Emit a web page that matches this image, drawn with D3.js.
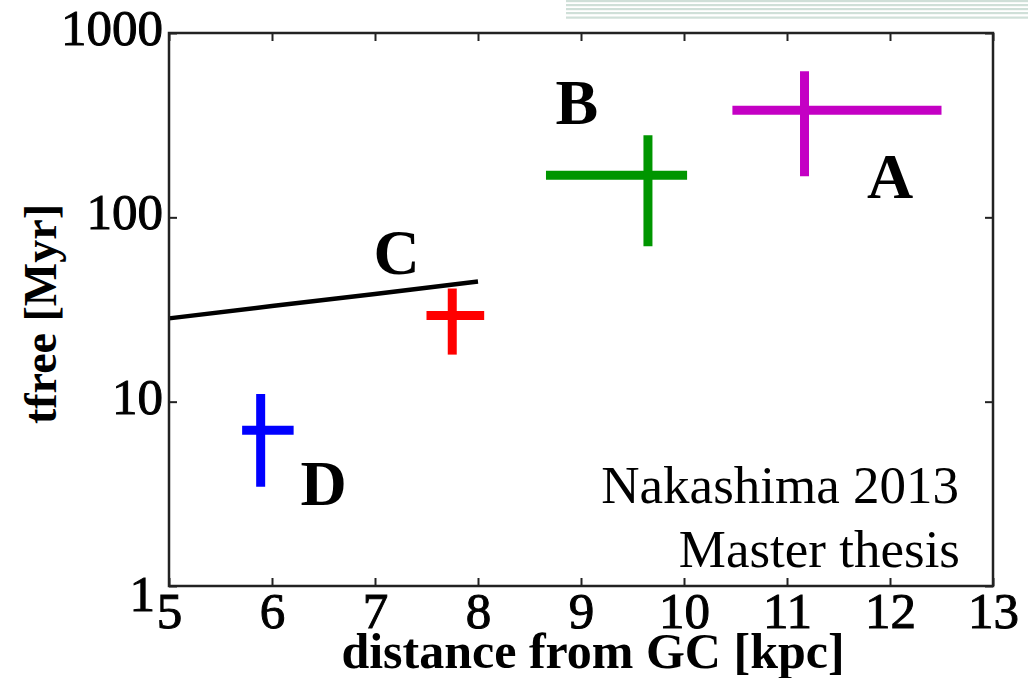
<!DOCTYPE html>
<html>
<head>
<meta charset="utf-8">
<script src="https://cdn.jsdelivr.net/npm/d3@7"></script>
<style>
  html, body { margin: 0; padding: 0; background: #fff; }
  svg { display: block; }
  text { font-family: "Liberation Serif", "Times New Roman", serif; fill: #000; }
</style>
</head>
<body>
<svg id="chart" width="1036" height="678"></svg>
<script>
// Cluster labels and their free-fall times (distance from GC in kpc, tfree in Myr)
const clusters = ["A", "B", "red", "D"];
const clusterColors = ["#c400c4", "#009600", "#ff0000", "#0000ff"];
const distCenter = [11.17, 9.65, 7.75, 5.89];
const distLow    = [10.47, 8.66, 7.50, 5.71];
const distHigh   = [12.50, 10.03, 8.06, 6.21];
const tfreeCenter = [381, 169, 29.3, 7.0];
const tfreeLow    = [167, 69.6, 18.0, 3.45];
const tfreeHigh   = [621, 279, 41.1, 11.0];

// Model curve C
const curveDist  = [5, 6, 7, 8];
const curveTfree = [28.3, 33.0, 38.4, 44.9];

// Text annotations placed in data coordinates
const letterText = ["A", "B", "C", "D"];
const letterDist = [12.0, 8.96, 7.21, 6.50];
const letterTfree = [127, 320, 49, 2.75];

// Axis ticks
const xTicks = [5, 6, 7, 8, 9, 10, 11, 12, 13];
const xTickLabels = ["5", "6", "7", "8", "9", "10", "11", "12", "13"];
const yTicks = [1, 10, 100, 1000];
const yTickLabels = ["1", "10", "100", "1000"];

const svg = d3.select("#chart");
const plotLeft = 169, plotRight = 993, plotTop = 33, plotBottom = 586;

const x = d3.scaleLinear().domain([5, 13]).range([plotLeft, plotRight]);
const y = d3.scaleLog().domain([1, 1000]).range([plotBottom, plotTop]);

// Decorative stripes at the top right of the slide
const stripeY = [0, 4, 8, 12, 16.5];
svg.append("g").selectAll("rect").data(stripeY).join("rect")
  .attr("x", 566).attr("y", d => d).attr("width", 462).attr("height", 2.2)
  .attr("fill", "#cfdfd8");

// Model curve
svg.append("path")
  .datum(curveDist.map((d, i) => [d, curveTfree[i]]))
  .attr("d", d3.line().x(d => x(d[0])).y(d => y(d[1])))
  .attr("fill", "none").attr("stroke", "#000").attr("stroke-width", 4.5);

// Error-bar crosses
const crosses = svg.append("g");
clusters.forEach((c, i) => {
  const g = crosses.append("g").attr("stroke", clusterColors[i]).attr("stroke-width", 9).attr("stroke-linecap", "butt");
  g.append("line")
    .attr("x1", x(distLow[i])).attr("x2", x(distHigh[i]))
    .attr("y1", y(tfreeCenter[i])).attr("y2", y(tfreeCenter[i]));
  g.append("line")
    .attr("x1", x(distCenter[i])).attr("x2", x(distCenter[i]))
    .attr("y1", y(tfreeLow[i])).attr("y2", y(tfreeHigh[i]));
});

// Frame
svg.append("rect")
  .attr("x", plotLeft).attr("y", plotTop).attr("width", plotRight - plotLeft).attr("height", plotBottom - plotTop)
  .attr("fill", "none").attr("stroke", "#222").attr("stroke-width", 2.5);

// Axes with inward ticks on all four sides
const tickLen = 8;
const fmtX = d => xTickLabels[xTicks.indexOf(d)];
const fmtY = d => yTickLabels[yTicks.indexOf(d)];

const xAxisB = svg.append("g").attr("transform", `translate(0,${plotBottom})`)
  .call(d3.axisBottom(x).tickValues(xTicks).tickFormat(fmtX).tickSizeInner(-tickLen).tickSizeOuter(0));
const xAxisT = svg.append("g").attr("transform", `translate(0,${plotTop})`)
  .call(d3.axisTop(x).tickValues(xTicks).tickFormat("").tickSizeInner(-tickLen).tickSizeOuter(0));
const yAxisL = svg.append("g").attr("transform", `translate(${plotLeft},0)`)
  .call(d3.axisLeft(y).tickValues(yTicks).tickFormat(fmtY).tickSizeInner(-tickLen).tickSizeOuter(0).tickPadding(6));
const yAxisR = svg.append("g").attr("transform", `translate(${plotRight},0)`)
  .call(d3.axisRight(y).tickValues(yTicks).tickFormat("").tickSizeInner(-tickLen).tickSizeOuter(0));

[xAxisB, xAxisT, yAxisL, yAxisR].forEach(a => {
  a.select(".domain").remove();
  a.selectAll(".tick line").attr("stroke", "#222").attr("stroke-width", 2);
  a.selectAll(".tick text")
    .style("font-family", '"Liberation Serif", "Times New Roman", serif')
    .style("font-size", "51px").attr("fill", "#000")
    .attr("stroke", "#000").attr("stroke-width", 1);
});
xAxisB.selectAll(".tick text").attr("y", 42).attr("dy", null);
yAxisL.selectAll(".tick text").attr("dy", null).attr("y", 11.5);
// The "1" at the bottom of the log axis sits lower, tucked against the "5"
yAxisL.selectAll(".tick").filter(d => d === 1).select("text").attr("x", -14).attr("y", 24);

// Cluster letters
svg.append("g").selectAll("text").data(letterText).join("text")
  .attr("x", (d, i) => x(letterDist[i])).attr("y", (d, i) => y(letterTfree[i]))
  .attr("text-anchor", "middle").attr("font-weight", "bold").attr("font-size", 64)
  .text(d => d);

// Credit
svg.append("text").attr("x", 959).attr("y", 503).attr("text-anchor", "end")
  .attr("font-size", 53).text("Nakashima 2013");
svg.append("text").attr("x", 960).attr("y", 567).attr("text-anchor", "end")
  .attr("font-size", 53).text("Master thesis");

// Axis titles
svg.append("text").attr("x", 593).attr("y", 668).attr("text-anchor", "middle")
  .attr("font-weight", "bold").attr("font-size", 50).text("distance from GC [kpc]");
svg.append("text").attr("transform", "translate(56,314) rotate(-90)").attr("text-anchor", "middle")
  .attr("font-weight", "bold").attr("font-size", 46).text("tfree [Myr]");
</script>
</body>
</html>
